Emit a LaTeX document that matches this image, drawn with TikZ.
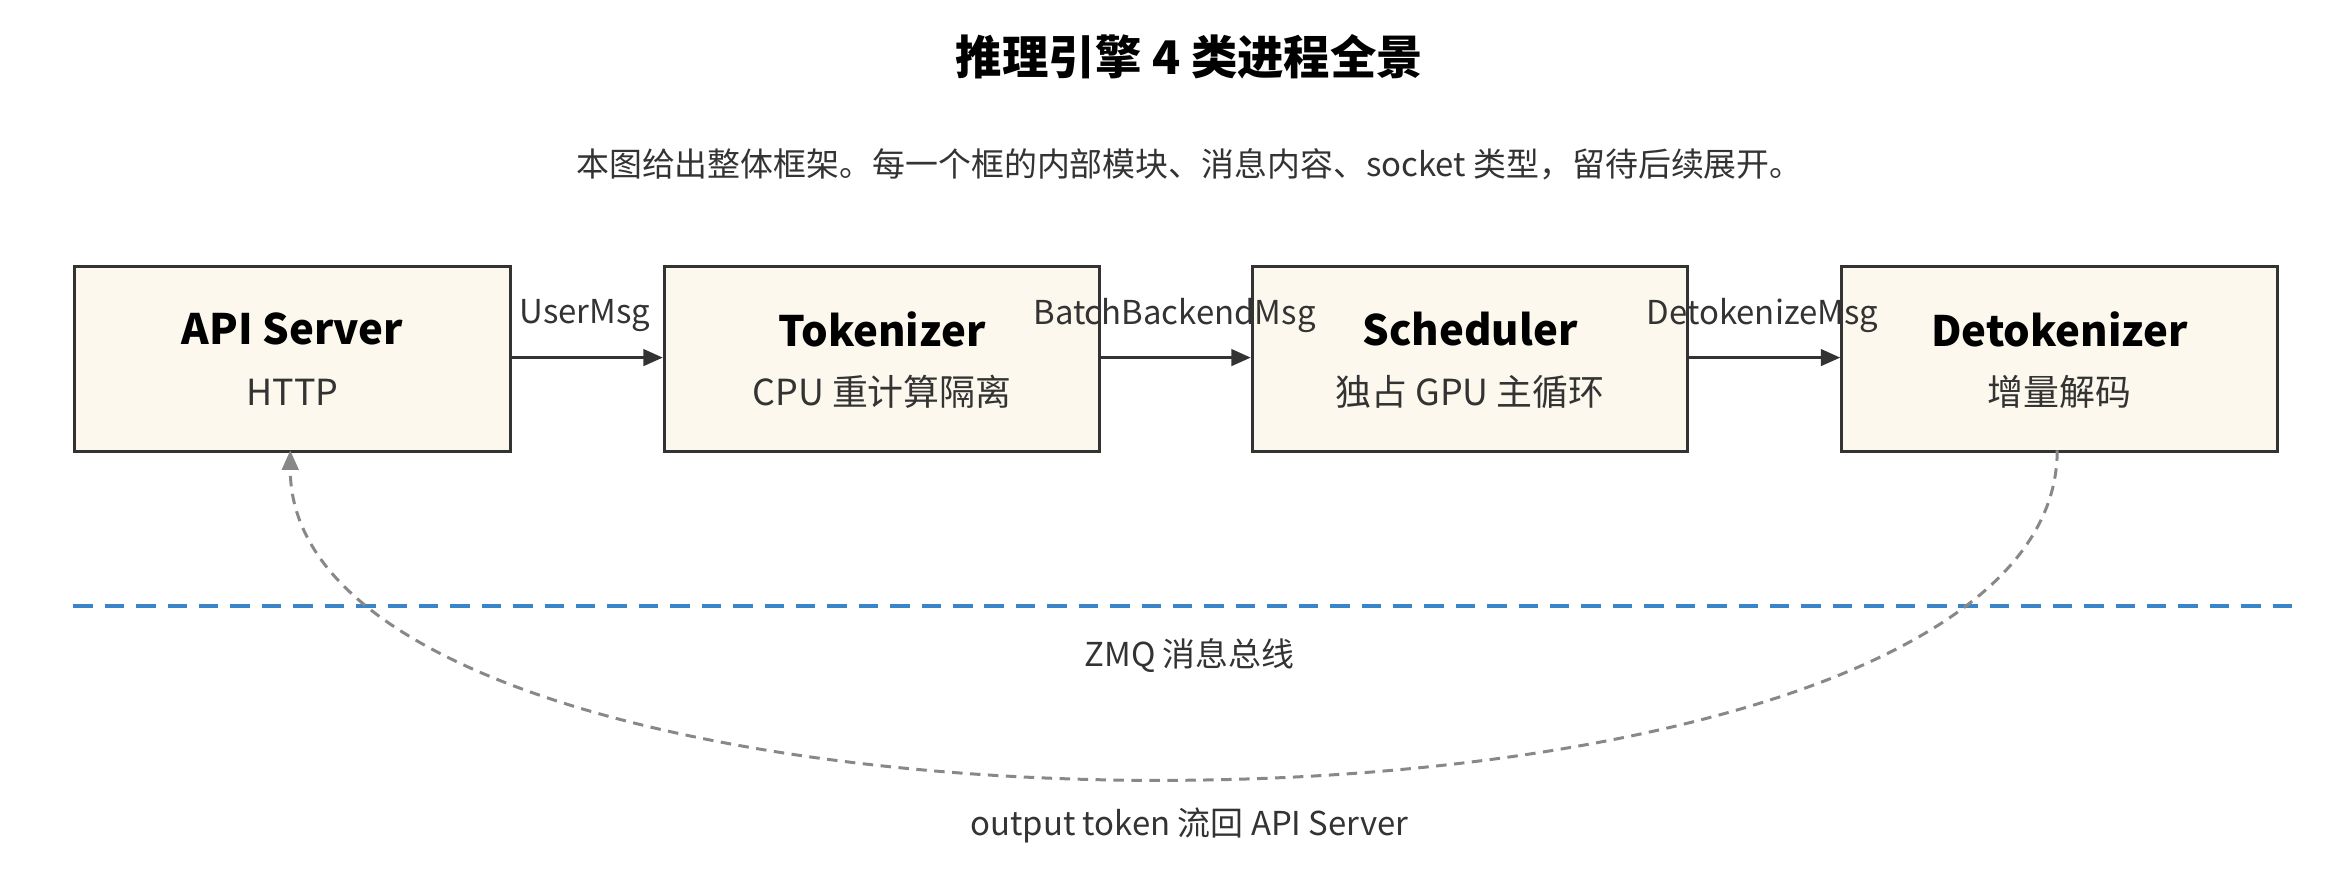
\documentclass[tikz,border=0pt]{standalone}
\usepackage{fontspec}
\setmainfont{Noto Sans CJK SC}
\usetikzlibrary{arrows.meta}
\definecolor{boxfill}{HTML}{FCF8EE}
\definecolor{boxline}{HTML}{333333}
\definecolor{busblue}{HTML}{3A85C8}
\definecolor{backgray}{HTML}{888888}
\begin{document}
\begin{tikzpicture}[x=1pt,y=-1pt,
  proc/.style={draw=boxline,line width=2pt,fill=boxfill,minimum width=291pt,minimum height=124pt,inner sep=0pt,anchor=north west},
  flow/.style={draw=boxline,line width=2pt,-{Triangle[length=13pt,width=11pt]}},
  elabel/.style={font=\fontsize{22}{24}\selectfont,text=boxline,inner sep=0pt}]
\useasboundingbox (0,0) rectangle (1560,590);
\node[font=\fontsize{31}{34}\selectfont\bfseries] (title) at (795,38) {推理引擎 4 类进程全景};
\node[font=\fontsize{22}{26}\selectfont,text=boxline] (sub) at (795,110) {本图给出整体框架。每一个框的内部模块、消息内容、socket 类型，留待后续展开。};
\foreach \n/\x/\t/\s in {api/49/API Server/HTTP / SSE, tok/443/Tokenizer/CPU 重计算隔离, sch/836/Scheduler/独占 GPU 主循环, det/1230/Detokenizer/增量解码}{
  \node[proc] (\n) at (\x,177) {};
  \node[font=\fontsize{28}{30}\selectfont\bfseries] (\n t) at ([yshift=-43pt]\n.north) {\t};
  \node[font=\fontsize{24}{26}\selectfont,text=boxline] (\n s) at ([yshift=-85pt]\n.north) {\s};
}
\draw[flow] (api.east |- 0,239) -- (tok.west |- 0,239);
\draw[flow] (tok.east |- 0,239) -- (sch.west |- 0,239);
\draw[flow] (sch.east |- 0,239) -- (det.west |- 0,239);
\node[elabel] (l1) at (391,211) {UserMsg};
\node[elabel] (l2) at (785,211) {BatchBackendMsg};
\node[elabel] (l3) at (1178,211) {DetokenizeMsg};
\coordinate (b1) at (49,405);
\coordinate (b2) at (1533,405);
\draw[busblue,line width=3pt,dash pattern=on 13pt off 8pt] (b1) -- (b2);
\node[font=\fontsize{22}{24}\selectfont,text=boxline] (zmq) at (795,438) {ZMQ 消息总线};
\coordinate (ds) at (1375,301);
\coordinate (ae) at (194,301);
\draw[backgray,line width=2pt,dash pattern=on 7pt off 5pt,-{Triangle[length=13pt,width=11pt]}] (ds) .. controls (1375,593) and (194,593) .. (ae);
\node[font=\fontsize{22}{24}\selectfont,text=boxline] (out) at (795,552) {output token 流回 API Server};
\end{tikzpicture}
\end{document}
